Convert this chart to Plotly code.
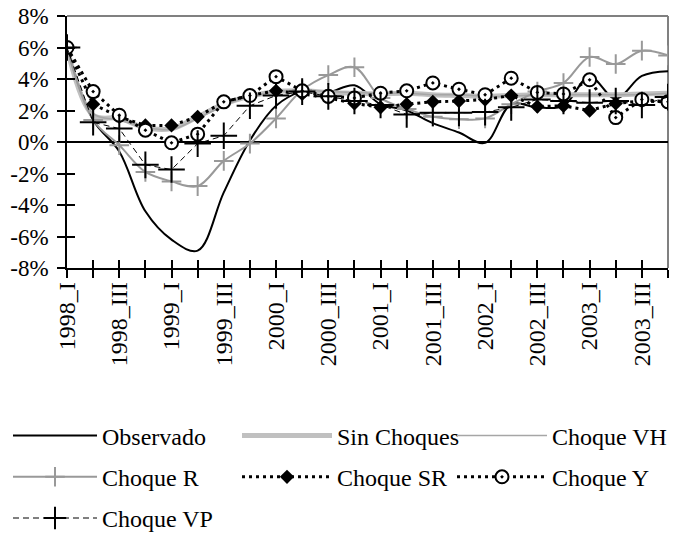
import plotly.graph_objects as go

quarters = ["1998_I", "1998_II", "1998_III", "1998_IV", "1999_I", "1999_II", "1999_III", "1999_IV",
            "2000_I", "2000_II", "2000_III", "2000_IV", "2001_I", "2001_II", "2001_III", "2001_IV",
            "2002_I", "2002_II", "2002_III", "2002_IV", "2003_I", "2003_II", "2003_III", "2003_IV"]
tick_labels = [q if i % 2 == 0 else "" for i, q in enumerate(quarters)]
y_tick_vals = [-8, -6, -4, -2, 0, 2, 4, 6, 8]
y_tick_text = ["-8%", "-6%", "-4%", "-2%", "0%", "2%", "4%", "6%", "8%"]

observado = [6.0, 1.4, -0.6, -4.4, -6.2, -6.9, -3.2, 0.1, 2.3, 3.2, 3.15, 3.6, 2.4, 2.0, 1.2, 0.6,
             -0.05, 2.4, 2.2, 2.3, 4.15, 2.75, 4.2, 4.5]
sin_choques = [6.0, 1.7, 1.5, 0.9, 0.85, 1.6, 2.4, 2.9, 3.2, 3.25, 3.15, 3.1, 3.05, 3.1, 3.0, 2.95,
               2.9, 2.95, 3.0, 3.0, 3.0, 3.0, 3.05, 3.1]
choque_vh = [6.0, 1.8, 1.4, 0.95, 0.8, 1.5, 2.3, 2.9, 3.2, 3.3, 3.2, 3.15, 3.1, 3.1, 3.0, 3.0,
             2.9, 2.9, 3.0, 3.0, 3.0, 3.0, 3.0, 3.1]
choque_r = [6.0, 1.4, -0.2, -1.9, -2.5, -2.8, -1.2, -0.1, 1.5, 3.3, 4.25, 4.75, 2.8, 2.1, 1.6, 1.45,
            1.5, 2.4, 3.2, 3.75, 5.4, 4.95, 5.8, 5.5]
choque_sr = [6.0, 2.4, 1.6, 1.05, 1.05, 1.6, 2.55, 2.95, 3.25, 3.05, 2.8, 2.45, 2.2, 2.4, 2.55, 2.6,
             2.7, 2.95, 2.25, 2.3, 2.0, 2.45, 2.6, 2.55]
choque_y = [6.0, 3.2, 1.7, 0.75, -0.05, 0.5, 2.55, 2.95, 4.15, 3.25, 2.9, 2.8, 3.1, 3.25, 3.75, 3.35,
            3.0, 4.05, 3.15, 3.05, 3.95, 1.55, 2.7, 2.55]
choque_vp = [6.0, 1.25, 0.85, -1.45, -1.75, -0.1, 0.4, 2.3, 2.95, 3.2, 2.9, 2.6, 2.35, 1.75, 1.85, 1.85,
             1.9, 2.2, 2.7, 2.6, 2.5, 2.6, 2.35, 2.85]

x = list(range(len(quarters)))
FONT = "Liberation Serif"
FS = 24
W, H = 672, 527  # page body has an 8px margin inside the 680x535 window

fig = go.Figure()

fig.add_trace(go.Scatter(x=x, y=observado, name="Observado", mode="lines",
                         line=dict(color="black", width=2, shape="spline", smoothing=1),
                         legend="legend", legendgroup="a"))
fig.add_trace(go.Scatter(x=x, y=sin_choques, name="Sin Choques", mode="lines",
                         line=dict(color="#c0c0c0", width=5, shape="spline", smoothing=1),
                         legend="legend2", legendgroup="b"))
fig.add_trace(go.Scatter(x=x, y=choque_vh, name="Choque VH", mode="lines",
                         line=dict(color="#a6a6a6", width=1.5, shape="spline", smoothing=1),
                         legend="legend3", legendgroup="c"))
fig.add_trace(go.Scatter(x=x, y=choque_r, name="Choque R", mode="lines+markers",
                         line=dict(color="#999999", width=2, shape="spline", smoothing=1),
                         marker=dict(symbol="cross-thin", size=14, line=dict(color="#999999", width=2)),
                         legend="legend", legendgroup="d"))
fig.add_trace(go.Scatter(x=x, y=choque_sr, name="Choque SR", mode="lines+markers",
                         line=dict(color="black", width=3, dash="3px,4px"),
                         marker=dict(symbol="diamond", size=11, color="black"),
                         legend="legend2", legendgroup="e"))
fig.add_trace(go.Scatter(x=x, y=choque_y, name="Choque Y", mode="lines+markers",
                         line=dict(color="black", width=3, dash="3px,4px"),
                         marker=dict(symbol="circle-dot", size=13, color="white",
                                     line=dict(color="black", width=2)),
                         legend="legend3", legendgroup="f"))
fig.add_trace(go.Scatter(x=x, y=choque_vp, name="Choque VP", mode="lines+markers",
                         line=dict(color="black", width=1, dash="6px,4px"),
                         marker=dict(symbol="cross-thin", size=19, line=dict(color="black", width=2)),
                         legend="legend", legendgroup="g"))

# invisible helpers so the overlay axes (inner half of the crossing ticks) get drawn
fig.add_trace(go.Scatter(x=[0], y=[0], xaxis="x2", yaxis="y", mode="markers",
                         marker=dict(opacity=0), showlegend=False, hoverinfo="skip"))
fig.add_trace(go.Scatter(x=[0], y=[0], xaxis="x", yaxis="y2", mode="markers",
                         marker=dict(opacity=0), showlegend=False, hoverinfo="skip"))

leg_common = dict(orientation="v", xref="container", yref="container", xanchor="left", yanchor="top",
                  font=dict(family=FONT, size=FS, color="black"), bgcolor="rgba(0,0,0,0)",
                  tracegroupgap=7, traceorder="grouped")
leg_y = 1 - 405.5 / H

fig.update_layout(
    width=W, height=H,
    margin=dict(l=59, r=12, t=8, b=267, autoexpand=False),
    paper_bgcolor="white", plot_bgcolor="white",
    font=dict(family=FONT, size=FS, color="black"),
    showlegend=True,
    legend=dict(x=0, y=leg_y, itemwidth=84, **leg_common),
    legend2=dict(x=229 / W, y=leg_y, itemwidth=90, **leg_common),
    legend3=dict(x=444 / W, y=leg_y, itemwidth=90, **leg_common),
    xaxis=dict(range=[0, 23], tickmode="array", tickvals=x, ticktext=tick_labels, tickangle=-90,
               ticks="outside", ticklen=8, tickwidth=1.5, tickcolor="black", ticklabelstandoff=-5,
               showline=True, linecolor="black", linewidth=1.5, showgrid=False, zeroline=False,
               tickfont=dict(family=FONT, size=FS, color="black")),
    xaxis2=dict(range=[0, 23], overlaying="x", anchor="y", side="bottom", tickmode="array", tickvals=x,
                ticks="inside", ticklen=8, tickwidth=1.5, tickcolor="black", showticklabels=False,
                showline=False, showgrid=False, zeroline=False),
    yaxis=dict(range=[-8, 8], tickmode="array", tickvals=y_tick_vals, ticktext=y_tick_text,
               ticks="outside", ticklen=8, tickwidth=1.5, tickcolor="black", ticklabelstandoff=4,
               ticklabeloverflow="allow",
               showline=True, linecolor="black", linewidth=1.5, showgrid=False,
               zeroline=True, zerolinecolor="black", zerolinewidth=1.5,
               tickfont=dict(family=FONT, size=23, color="black")),
    yaxis2=dict(range=[-8, 8], overlaying="y", anchor="x", side="left", tickmode="array",
                tickvals=y_tick_vals, ticks="inside", ticklen=8, tickwidth=1.5, tickcolor="black",
                showticklabels=False, showline=False, showgrid=False, zeroline=False),
    shapes=[
        dict(type="line", xref="paper", yref="paper", x0=0, x1=1, y0=1, y1=1,
             line=dict(color="#808080", width=2), layer="between"),
        dict(type="line", xref="paper", yref="paper", x0=1, x1=1, y0=0, y1=1,
             line=dict(color="#808080", width=2), layer="between"),
    ],
)

fig.write_html("out.html")
